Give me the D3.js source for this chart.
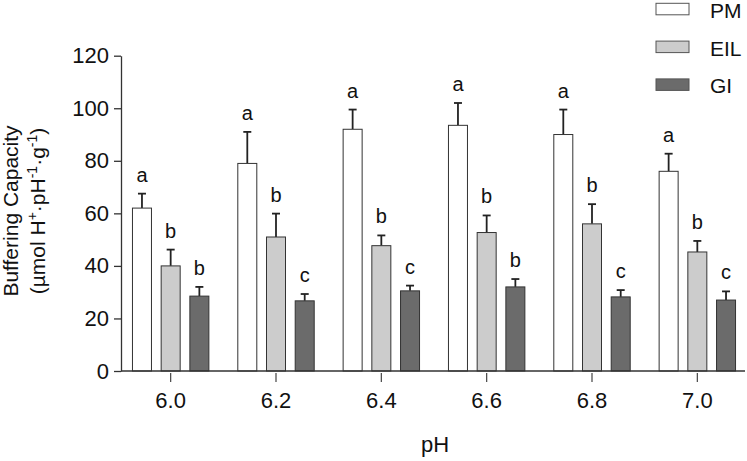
<!DOCTYPE html>
<html>
<head>
<meta charset="utf-8">
<script src="https://cdn.jsdelivr.net/npm/d3@7"></script>
<style>
  body { margin: 0; background: #fff; }
  svg { font-family: "Liberation Sans", Arial, sans-serif; }
</style>
</head>
<body>
<svg id="chart" width="747" height="461"></svg>
<script>
// pH categories and series
const phLevels = ['6.0', '6.2', '6.4', '6.6', '6.8', '7.0'];
const seriesNames = ['PM', 'EIL', 'GI'];
const pmValues = [62, 79, 92, 93.5, 90, 76];
const pmErrors = [5.5, 12, 7.5, 8.5, 9.5, 6.7];
const eilValues = [40, 51, 47.7, 52.7, 56, 45.3];
const eilErrors = [6.2, 8.9, 3.9, 6.5, 7.5, 4.2];
const giValues = [28.5, 26.7, 30.5, 32, 28.2, 27];
const giErrors = [3.5, 2.6, 2, 3, 2.6, 3.3];
const pmLetters = ['a', 'a', 'a', 'a', 'a', 'a'];
const eilLetters = ['b', 'b', 'b', 'b', 'b', 'b'];
const giLetters = ['b', 'c', 'c', 'b', 'c', 'c'];
const yTicks = [0, 20, 40, 60, 80, 100, 120];

const fills = { PM: '#ffffff', EIL: '#cccccc', GI: '#6b6b6b' };

const svg = d3.select('#chart');

const x = d3.scaleBand().domain(phLevels).range([118, 750]).padding(0);
const xInner = d3.scaleBand().domain(seriesNames).range([-38.2, 38.2]).paddingInner(0.338);
const y = d3.scaleLinear().domain([0, 120]).range([371, 55.7]);

// build rows from the arrays
const vals = { PM: pmValues, EIL: eilValues, GI: giValues };
const errs = { PM: pmErrors, EIL: eilErrors, GI: giErrors };
const lets = { PM: pmLetters, EIL: eilLetters, GI: giLetters };
const rows = [];
phLevels.forEach((p, i) => {
  seriesNames.forEach(s => {
    rows.push({ ph: p, s: s, v: vals[s][i], e: errs[s][i], l: lets[s][i] });
  });
});
const cx = d => x(d.ph) + x.bandwidth() / 2 + xInner(d.s) + xInner.bandwidth() / 2;

// error bars (behind the bars)
const err = svg.append('g').attr('stroke', '#222').attr('stroke-width', 1.8);
err.selectAll('line.v').data(rows).enter().append('line')
  .attr('x1', cx).attr('x2', cx)
  .attr('y1', d => y(d.v)).attr('y2', d => y(d.v + d.e));
err.selectAll('line.c').data(rows).enter().append('line')
  .attr('x1', d => cx(d) - 4).attr('x2', d => cx(d) + 4)
  .attr('y1', d => y(d.v + d.e)).attr('y2', d => y(d.v + d.e));

// bars
svg.append('g').selectAll('rect').data(rows).enter().append('rect')
  .attr('x', d => cx(d) - xInner.bandwidth() / 2)
  .attr('width', xInner.bandwidth())
  .attr('y', d => y(d.v))
  .attr('height', d => y(0) - y(d.v))
  .attr('fill', d => fills[d.s])
  .attr('stroke', '#333')
  .attr('stroke-width', 1);

// significance letters
svg.append('g').selectAll('text').data(rows).enter().append('text')
  .attr('x', cx)
  .attr('y', d => y(d.v + d.e) - 12)
  .attr('text-anchor', 'middle')
  .attr('font-size', 20)
  .attr('fill', '#111')
  .text(d => d.l);

// y axis
const yAxis = svg.append('g').attr('transform', 'translate(121,0)')
  .call(d3.axisLeft(y).tickValues(yTicks).tickSize(7).tickPadding(5).tickSizeOuter(0));
yAxis.select('.domain').attr('stroke', '#333').attr('stroke-width', 1.3);
yAxis.selectAll('.tick line').attr('stroke', '#333').attr('stroke-width', 1.3);
yAxis.selectAll('text').attr('font-size', 22).attr('fill', '#111')
  .attr('font-family', '"Liberation Sans", Arial, sans-serif');

// x axis
const xAxis = svg.append('g').attr('transform', 'translate(0,371)')
  .call(d3.axisBottom(x).tickSize(11).tickPadding(10).tickSizeOuter(0));
xAxis.select('.domain').attr('d', 'M121,0H745').attr('stroke', '#333').attr('stroke-width', 1.3);
xAxis.selectAll('.tick line').attr('stroke', '#444').attr('stroke-width', 1.2).attr('y1', 2);
xAxis.selectAll('text').attr('font-size', 22).attr('fill', '#111')
  .attr('font-family', '"Liberation Sans", Arial, sans-serif');

// axis titles
svg.append('text')
  .attr('x', 435).attr('y', 452)
  .attr('text-anchor', 'middle')
  .attr('font-size', 22).attr('fill', '#111')
  .text('pH');

svg.append('text')
  .attr('transform', 'translate(18,211) rotate(-90)')
  .attr('text-anchor', 'middle')
  .attr('font-size', 21).attr('fill', '#111')
  .text('Buffering Capacity');

const t2 = svg.append('text')
  .attr('transform', 'translate(45,211) rotate(-90)')
  .attr('text-anchor', 'middle')
  .attr('font-size', 21).attr('fill', '#111');
t2.append('tspan').text('(µmol H');
t2.append('tspan').attr('font-size', 14).attr('dy', -8).text('+');
t2.append('tspan').attr('dy', 8).text('·pH');
t2.append('tspan').attr('font-size', 14).attr('dy', -8).text('-1');
t2.append('tspan').attr('dy', 8).text('·g');
t2.append('tspan').attr('font-size', 14).attr('dy', -8).text('-1');
t2.append('tspan').attr('dy', 8).text(')');

// legend
const legend = svg.append('g').selectAll('g').data(seriesNames).enter().append('g')
  .attr('transform', (d, i) => `translate(656,${3.3 + i * 37.8})`);
legend.append('rect')
  .attr('width', 33).attr('height', 11.5)
  .attr('fill', d => fills[d])
  .attr('stroke', '#555').attr('stroke-width', 1);
legend.append('text')
  .attr('x', 54).attr('y', 14.5)
  .attr('font-size', 21).attr('fill', '#111')
  .text(d => d);
</script>
</body>
</html>
